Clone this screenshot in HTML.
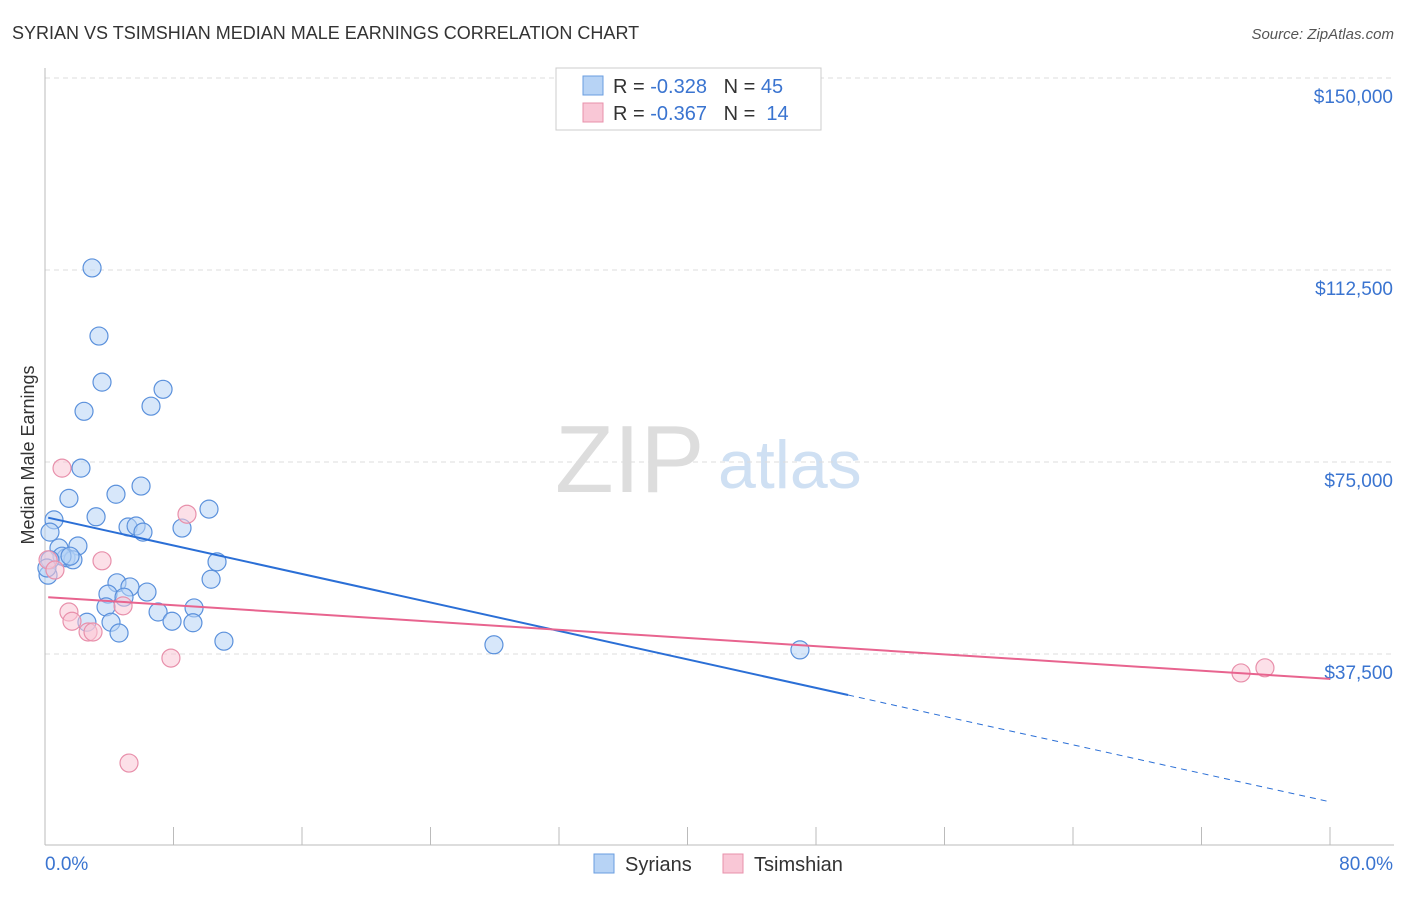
<!DOCTYPE html>
<html><head><meta charset="utf-8"><style>
body{margin:0;background:#fff;font-family:"Liberation Sans",sans-serif}
svg text{font-family:"Liberation Sans",sans-serif}
</style></head><body>
<svg width="1406" height="892" id="c">
<text x="12" y="39" font-size="18" fill="#333">SYRIAN VS TSIMSHIAN MEDIAN MALE EARNINGS CORRELATION CHART</text>
<text x="1394" y="39" font-size="15" fill="#555" font-style="italic" text-anchor="end">Source: ZipAtlas.com</text>
<text transform="translate(34,455) rotate(-90)" font-size="18" fill="#333" text-anchor="middle">Median Male Earnings</text>
<text x="555" y="492" font-size="96" fill="#ddd" font-family="Liberation Serif">ZIP</text>
<text x="718" y="488" font-size="68" fill="#cfe0f3">atlas</text>
<g id="grid"></g><g id="marks"></g>
<g>
<rect x="556" y="68" width="265" height="62" fill="#fff" stroke="#ccc"/>
<rect x="583" y="76" width="20" height="19" fill="#b7d3f5" stroke="#6a9ee0"/>
<text x="613" y="93" font-size="20" fill="#333">R = <tspan fill="#3a74d0">-0.328</tspan>&#160;&#160;&#160;N = <tspan fill="#3a74d0">45</tspan></text>
<rect x="583" y="103" width="20" height="19" fill="#f9c7d6" stroke="#e890ab"/>
<text x="613" y="120" font-size="20" fill="#333">R = <tspan fill="#3a74d0">-0.367</tspan>&#160;&#160;&#160;N = <tspan fill="#3a74d0">&#160;14</tspan></text>
</g>
<g>
<rect x="594" y="854" width="20" height="19" fill="#b7d3f5" stroke="#6a9ee0"/>
<text x="625" y="871" font-size="20" fill="#333">Syrians</text>
<rect x="723" y="854" width="20" height="19" fill="#f9c7d6" stroke="#e890ab"/>
<text x="754" y="871" font-size="20" fill="#333">Tsimshian</text>
</g>
<text x="45" y="870" font-size="19" fill="#3a74d0">0.0%</text>
<text x="1393" y="870" font-size="19" fill="#3a74d0" text-anchor="end">80.0%</text>
</svg>
<script>
const yTicks=[150000,112500,75000,37500];
const yTickLabels=["$150,000","$112,500","$75,000","$37,500"];
const syrX=[2.93,3.36,3.55,2.43,7.35,6.60,2.24,1.49,4.42,5.98,0.56,3.18,10.21,0.31,8.53,5.17,5.67,6.10,0.87,2.05,1.31,1.74,1.06,10.71,4.48,5.29,6.35,10.34,3.92,4.92,3.80,9.28,7.04,7.91,4.11,9.21,2.61,4.61,11.14,27.95,47.0,0.19,0.31,1.56,0.12];
const syrY=[112900,99600,90600,84900,89200,85900,73800,67900,68700,70300,63700,64300,65800,61300,62100,62300,62500,61300,58200,58600,56300,55900,56600,55500,51400,50600,49600,52100,49200,48600,46700,46500,45700,43900,43700,43600,43700,41600,40000,39300,38300,52900,55900,56600,54300];
const tsiX=[1.06,8.84,3.55,0.19,0.62,1.49,1.68,2.68,2.99,4.86,7.84,5.23,74.46,75.95];
const tsiY=[73800,64800,55700,55900,53900,45700,43900,41800,41800,46900,36700,16200,33800,34800];
const syrTrend=[64260,-695.4];
const tsiTrend=[48630,-200];
const X=p=>45+p/80*1285, Y=v=>654-(v-37500)*192/37500;
const NS="http://www.w3.org/2000/svg";
function mk(t,a,parent){const e=document.createElementNS(NS,t);for(const k in a)e.setAttribute(k,a[k]);parent.appendChild(e);return e;}
const g=document.getElementById('grid'),m=document.getElementById('marks');
yTicks.forEach((v,i)=>{
 const l=mk('line',{x1:45,x2:1394,y1:Y(v),y2:Y(v),stroke:'#ddd','stroke-dasharray':'5,4'},g);
 
 
 const t=mk('text',{x:1393,y:Y(v)+25,'font-size':19,fill:'#3a74d0','text-anchor':'end'},g);
 t.textContent=yTickLabels[i];
 
 
});
mk('line',{x1:45,x2:45,y1:68,y2:845,stroke:'#bbb'},g);
mk('line',{x1:45,x2:1394,y1:845,y2:845,stroke:'#bbb'},g);
for(let i=0;i<=10;i++){const tk=mk('line',{x1:X(i*8),x2:X(i*8),y1:827,y2:845,stroke:'#bbb'},g);
 
 }
function dots(xs,ys,fill,stroke,name){xs.forEach((x,i)=>{
 const c=mk('circle',{cx:X(x),cy:Y(ys[i]),r:9,fill:fill,'fill-opacity':0.55,stroke:stroke,'stroke-width':1.2},m);
 
 });}
dots(syrX,syrY,'#b7d3f5','#5b91dc','syrian-point');
dots(tsiX,tsiY,'#f9c7d6','#e890ab','tsimshian-point');
const f=(t,x)=>t[0]+t[1]*x;
const b1=mk('line',{x1:X(0.2),y1:Y(f(syrTrend,0.2)),x2:X(50),y2:Y(f(syrTrend,50)),stroke:'#2b6fd6','stroke-width':2},m);


const b2=mk('line',{x1:X(50),y1:Y(f(syrTrend,50)),x2:X(80),y2:Y(f(syrTrend,80)),stroke:'#2b6fd6','stroke-width':1,'stroke-dasharray':'6,5'},m);


const p1=mk('line',{x1:X(0.2),y1:Y(f(tsiTrend,0.2)),x2:X(80),y2:Y(f(tsiTrend,80)),stroke:'#e8648f','stroke-width':2},m);


</script>
</body></html>
